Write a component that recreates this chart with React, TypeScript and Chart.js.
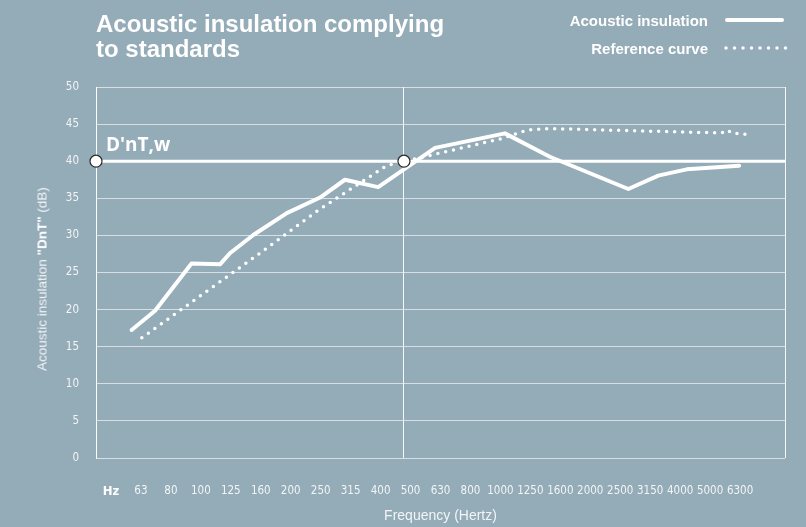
import React, { useEffect, useRef } from "react";
import { Chart, registerables } from "chart.js";

Chart.register(...registerables);

// ---- data ----
const titleLines = ["Acoustic insulation complying", "to standards"];
const bandLabels = [
  "Hz", "63", "80", "100", "125", "160", "200", "250", "315", "400", "500",
  "630", "800", "1000", "1250", "1600", "2000", "2500", "3150", "4000", "5000", "6300",
];
const xAxisTitle = "Frequency (Hertz)";
const yAxisTitleParts = ["Acoustic insulation ", "\"DnT\"", " (dB)"];

// band position (index on the frequency axis) and value in dB
const insulationBands = [0.69, 1.47, 2.69, 3.64, 3.97, 4.75, 5.87, 6.98, 7.81, 8.92, 10.82, 13.15, 14.65, 17.27, 18.27, 19.22, 20.97];
const insulationDb = [17.25, 19.85, 26.2, 26.1, 27.6, 30.05, 33.0, 35.1, 37.5, 36.5, 41.8, 43.75, 40.6, 36.25, 38.05, 38.9, 39.4];

const referenceBands = [1.03, 4.9, 6.92, 9.2, 13.09, 13.89, 14.65, 20.39, 20.58, 20.72, 21.24];
const referenceDb = [16.2, 27.4, 33.4, 39.4, 43.1, 44.2, 44.4, 43.8, 44.2, 43.8, 43.6];

const dntwLabel = "D'nT,w";
const dntwValue = 40;
const dntwMarkerBands = [-0.5, 9.78];
const bandRange = [-0.5, 22.5];
const dividerBands = [-0.5, 9.78, 22.5];

const seriesLabels = ["Acoustic insulation", "Reference curve"];

// ---- styles ----
const BG = "#94abb8";
const NARROW = "'DejaVu Sans Condensed', 'Liberation Sans', sans-serif";
const SANS = "'Liberation Sans', Arial, sans-serif";
const TICK_COLOR = "rgba(255,255,255,0.88)";

const dntwLabelPlugin = {
  id: "dntwLabel",
  afterDatasetsDraw(chart: any) {
    const { ctx, scales } = chart;
    const px = scales.x.getPixelForValue(dntwMarkerBands[0]);
    const py = scales.y.getPixelForValue(dntwValue);
    ctx.save();
    ctx.font = "bold 19px 'Open Sans', sans-serif";
    ctx.fillStyle = "#ffffff";
    ctx.textAlign = "left";
    ctx.textBaseline = "alphabetic";
    ctx.fillText(dntwLabel, px + 10, py - 10);
    ctx.restore();
  },
};

export default function App() {
  const canvasRef = useRef<HTMLCanvasElement | null>(null);

  useEffect(() => {
    const canvas = canvasRef.current;
    if (!canvas) return;
    const chart = new Chart(canvas, {
      type: "line",
      data: {
        datasets: [
          {
            label: "markers",
            data: dntwMarkerBands.map((x) => ({ x, y: dntwValue })),
            showLine: false,
            pointRadius: 6,
            pointBackgroundColor: "#ffffff",
            pointBorderColor: "#2a2a2a",
            pointBorderWidth: 1.2,
            clip: false,
          } as any,
          {
            label: seriesLabels[0],
            data: insulationBands.map((x, i) => ({ x, y: insulationDb[i] })),
            borderColor: "#ffffff",
            borderWidth: 4,
            pointRadius: 0,
            borderCapStyle: "round",
            borderJoinStyle: "round",
            tension: 0,
          },
          {
            label: dntwLabel,
            data: bandRange.map((x) => ({ x, y: dntwValue })),
            borderColor: "#ffffff",
            borderWidth: 3,
            pointRadius: 0,
          },
          {
            label: seriesLabels[1],
            data: referenceBands.map((x, i) => ({ x, y: referenceDb[i] })),
            borderColor: "#ffffff",
            borderWidth: 3.5,
            borderDash: [0, 8],
            borderCapStyle: "round",
            pointRadius: 0,
            tension: 0,
          },
        ],
      },
      options: {
        responsive: false,
        animation: false,
        events: [],
        layout: { padding: { left: 0, right: 21, top: 87, bottom: 0 } },
        plugins: { legend: { display: false }, tooltip: { enabled: false }, title: { display: false } },
        scales: {
          x: {
            type: "linear",
            position: "bottom",
            min: bandRange[0],
            max: bandRange[1],
            afterBuildTicks: (axis: any) => {
              axis.ticks = bandLabels.map((_, i) => ({ value: i }));
            },
            afterFit: (axis: any) => {
              axis.height = 69;
            },
            ticks: {
              autoSkip: false,
              maxRotation: 0,
              padding: 18,
              callback: (v: any) => bandLabels[v] ?? "",
              font: (ctx: any) =>
                ctx.index === 0
                  ? { family: NARROW, size: 13, weight: "bold" }
                  : { family: NARROW, size: 11.5 },
              color: (ctx: any) => (ctx.index === 0 ? "#ffffff" : TICK_COLOR),
            },
            grid: { display: false },
            border: { display: false },
            title: {
              display: true,
              text: xAxisTitle,
              color: TICK_COLOR,
              font: { family: SANS, size: 14 },
              padding: { top: 0, bottom: 2 },
            },
          },
          x2: {
            type: "linear",
            position: "top",
            min: bandRange[0],
            max: bandRange[1],
            afterBuildTicks: (axis: any) => {
              axis.ticks = dividerBands.map((v) => ({ value: v }));
            },
            afterFit: (axis: any) => {
              axis.height = 0;
            },
            ticks: { display: false },
            grid: { color: "rgba(255,255,255,0.9)", lineWidth: 1, drawTicks: false },
            border: { display: false },
          },
          y: {
            min: 0,
            max: 50,
            afterFit: (axis: any) => {
              axis.width = 96;
            },
            ticks: {
              stepSize: 5,
              padding: 17,
              color: TICK_COLOR,
              font: { family: NARROW, size: 11.5 },
            },
            grid: { color: "rgba(255,255,255,0.62)", lineWidth: 1, drawTicks: false },
            border: { display: true, color: "rgba(255,255,255,0.9)" },
          },
        },
      } as any,
      plugins: [dntwLabelPlugin],
    });
    return () => chart.destroy();
  }, []);

  return (
    <div
      style={{
        position: "fixed",
        left: 0,
        top: 0,
        width: 806,
        height: 527,
        background: BG,
        overflow: "hidden",
      }}
    >
      <canvas ref={canvasRef} width={806} height={527} style={{ position: "absolute", left: 0, top: 0 }} />
      <div
        style={{
          position: "absolute",
          left: 96,
          top: 11,
          color: "#ffffff",
          fontFamily: SANS,
          fontWeight: 700,
          fontSize: 24,
          lineHeight: "25px",
          whiteSpace: "nowrap",
        }}
      >
        {titleLines.map((l) => (
          <div key={l}>{l}</div>
        ))}
      </div>
      <div
        style={{
          position: "absolute",
          right: 18,
          top: 10,
          color: "#ffffff",
          fontFamily: SANS,
          fontWeight: 700,
          fontSize: 15,
          whiteSpace: "nowrap",
        }}
      >
        {seriesLabels.map((l, i) => (
          <div key={l} style={{ display: "flex", justifyContent: "flex-end", alignItems: "center", height: 20, marginBottom: 8 }}>
            <span>{l}</span>
            <svg width={64} height={8} style={{ marginLeft: 16 }}>
              {i === 0 ? (
                <line x1={3} y1={4} x2={58} y2={4} stroke="#ffffff" strokeWidth={4} strokeLinecap="round" />
              ) : (
                <line x1={2} y1={4} x2={62} y2={4} stroke="#ffffff" strokeWidth={3.5} strokeLinecap="round" strokeDasharray="0 8.5" />
              )}
            </svg>
          </div>
        ))}
      </div>
      <div
        style={{
          position: "absolute",
          left: 42,
          top: 279,
          transform: "translate(-50%, -50%) rotate(-90deg)",
          color: TICK_COLOR,
          fontFamily: SANS,
          fontSize: 13.5,
          whiteSpace: "nowrap",
        }}
      >
        {yAxisTitleParts[0]}
        <b style={{ color: "#ffffff" }}>{yAxisTitleParts[1]}</b>
        {yAxisTitleParts[2]}
      </div>
    </div>
  );
}
